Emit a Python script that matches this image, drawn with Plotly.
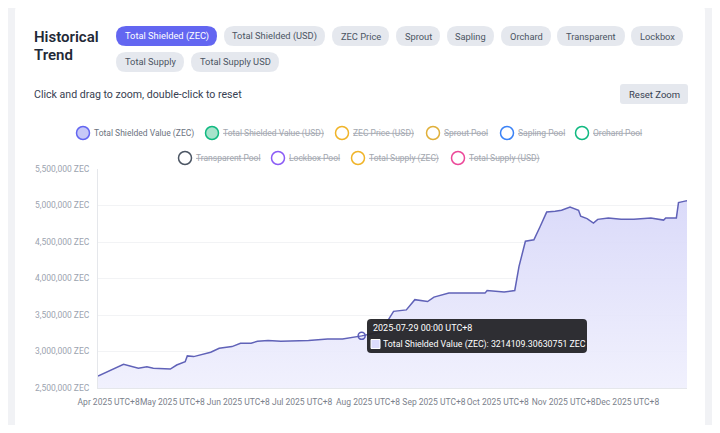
import plotly.graph_objects as go

# data
dates = ["2025-03-27", "2025-04-08", "2025-04-15", "2025-04-19", "2025-04-22", "2025-04-30",
         "2025-05-03", "2025-05-07", "2025-05-08", "2025-05-11", "2025-05-19", "2025-05-23",
         "2025-05-29", "2025-06-02", "2025-06-07", "2025-06-10", "2025-06-15", "2025-06-21",
         "2025-07-04", "2025-07-13", "2025-07-20", "2025-07-29", "2025-08-07", "2025-08-13",
         "2025-08-19", "2025-08-23", "2025-08-29", "2025-09-01", "2025-09-08", "2025-09-25",
         "2025-09-26", "2025-10-04", "2025-10-09", "2025-10-11", "2025-10-14", "2025-10-18",
         "2025-10-21", "2025-10-24", "2025-10-28", "2025-10-31", "2025-11-04", "2025-11-08",
         "2025-11-09", "2025-11-12", "2025-11-15", "2025-11-17", "2025-11-22", "2025-11-28",
         "2025-12-04", "2025-12-12", "2025-12-18", "2025-12-19", "2025-12-24", "2025-12-25",
         "2025-12-28", "2025-12-29"]
shielded_zec = [2665000, 2826000, 2770000, 2790000, 2770000, 2760000,
                2815000, 2860000, 2940000, 2930000, 2990000, 3045000,
                3067000, 3114000, 3114000, 3140000, 3150000, 3140000,
                3150000, 3170000, 3170000, 3214109.30630751, 3270000, 3550000,
                3570000, 3710000, 3685000, 3745000, 3800000, 3800000,
                3836000, 3815000, 3836000, 4166000, 4510000, 4530000,
                4716000, 4910000, 4920000, 4935000, 4980000, 4935000,
                4853000, 4820000, 4760000, 4810000, 4830000, 4810000,
                4810000, 4830000, 4800000, 4830000, 4830000, 5040000,
                5060000, 5065000]

hover_date = "2025-07-29"
hover_value = 3214109.30630751

y_ticks = [2500000, 3000000, 3500000, 4000000, 4500000, 5000000, 5500000]
y_labels = [f"{v:,} ZEC" for v in y_ticks]
x_ticks = ["2025-04-01", "2025-05-01", "2025-06-01", "2025-07-01", "2025-08-01",
           "2025-09-01", "2025-10-01", "2025-11-01", "2025-12-01"]
x_labels = ["Apr 2025 UTC+8", "May 2025 UTC+8", "Jun 2025 UTC+8", "Jul 2025 UTC+8",
            "Aug 2025 UTC+8", "Sep 2025 UTC+8", "Oct 2025 UTC+8", "Nov 2025 UTC+8",
            "Dec 2025 UTC+8"]

pills_row1 = ["Total Shielded (ZEC)", "Total Shielded (USD)", "ZEC Price", "Sprout",
              "Sapling", "Orchard", "Transparent", "Lockbox"]
pills_row2 = ["Total Supply", "Total Supply USD"]

legend_names = ["Total Shielded Value (ZEC)", "Total Shielded Value (USD)", "ZEC Price (USD)",
                "Sprout Pool", "Sapling Pool", "Orchard Pool", "Transparent Pool",
                "Lockbox Pool", "Total Supply (ZEC)", "Total Supply (USD)"]
legend_colors = ["#6366f1", "#10b981", "#f0b429", "#e0b03a", "#3b82f6", "#10b981",
                 "#4b5563", "#8b5cf6", "#f0b429", "#ec4899"]

# page body has an 8px margin, so the figure is a bit smaller and shifted
OFF = 8
W, H = 720 - 2 * OFF, 433 - 2 * OFF
FONT = "Roboto"


def px(x):
    return (x - OFF) / W


def py(y):
    return 1 - (y - OFF) / H


def rounded(x0, y0, x1, y1, r, bottom=True):
    # rounded rectangle path in paper coords from pixel values
    pts = [
        f"M {px(x0 + r):.5f} {py(y0):.5f}",
        f"L {px(x1 - r):.5f} {py(y0):.5f}",
        f"Q {px(x1):.5f} {py(y0):.5f} {px(x1):.5f} {py(y0 + r):.5f}",
    ]
    if bottom:
        pts += [
            f"L {px(x1):.5f} {py(y1 - r):.5f}",
            f"Q {px(x1):.5f} {py(y1):.5f} {px(x1 - r):.5f} {py(y1):.5f}",
            f"L {px(x0 + r):.5f} {py(y1):.5f}",
            f"Q {px(x0):.5f} {py(y1):.5f} {px(x0):.5f} {py(y1 - r):.5f}",
        ]
    else:
        pts += [
            f"L {px(x1):.5f} {py(y1):.5f}",
            f"L {px(x0):.5f} {py(y1):.5f}",
        ]
    pts += [
        f"L {px(x0):.5f} {py(y0 + r):.5f}",
        f"Q {px(x0):.5f} {py(y0):.5f} {px(x0 + r):.5f} {py(y0):.5f}",
        "Z",
    ]
    return " ".join(pts)


def label(text, x, y, size, color, xanchor="center", weight=None):
    f = dict(family=FONT, size=size, color=color)
    if weight:
        f["weight"] = weight
    return dict(text=text, x=px(x), y=py(y), xref="paper", yref="paper",
                xanchor=xanchor, yanchor="middle", align="left", showarrow=False, font=f)


fig = go.Figure()

fig.add_trace(go.Scatter(
    x=dates, y=shielded_zec, mode="lines",
    line=dict(color="#6062b8", width=1.5),
    fill="tozeroy",
    fillgradient=dict(type="vertical", start=2500000, stop=5100000,
                      colorscale=[[0, "rgba(239,239,253,0.9)"], [1, "rgba(216,216,249,0.95)"]]),
    showlegend=False, hoverinfo="skip",
))
fig.add_trace(go.Scatter(
    x=[hover_date], y=[hover_value], mode="markers",
    marker=dict(symbol="circle-open", size=7, color="#5b5db8", line=dict(width=1.5)),
    showlegend=False, hoverinfo="skip",
))

shapes = []
annotations = []

# white card
shapes.append(dict(type="path", xref="paper", yref="paper", layer="below",
                   path=rounded(15, 2, 705, 426, 10, bottom=False), fillcolor="white",
                   line=dict(width=0)))

# title
annotations.append(label("Historical", 32, 37, 15, "#1f2937", "left", 600))
annotations.append(label("Trend", 32, 55, 15, "#1f2937", "left", 600))

# pills
row1_pos = [(116, 217), (224, 325), (332, 389), (396, 440), (447, 494), (501, 551),
            (557, 625), (631, 683)]
row2_pos = [(116, 184), (191, 279)]
for names, poss, (ya, yb) in [(pills_row1, row1_pos, (26, 46)), (pills_row2, row2_pos, (52, 72))]:
    for i, (name, (xa, xb)) in enumerate(zip(names, poss)):
        active = names is pills_row1 and i == 0
        shapes.append(dict(type="path", xref="paper", yref="paper", layer="below",
                           path=rounded(xa, ya, xb, yb, 10),
                           fillcolor="#6366f1" if active else "#e5e8ee", line=dict(width=0)))
        annotations.append(label(name, (xa + xb) / 2, (ya + yb) / 2, 9.3,
                                 "white" if active else "#4b5563"))

# hint and reset button
annotations.append(label("Click and drag to zoom, double-click to reset", 32, 94, 10.6,
                         "#374151", "left"))
shapes.append(dict(type="path", xref="paper", yref="paper", layer="below",
                   path=rounded(620, 84, 688, 104, 3), fillcolor="#e5e8ee", line=dict(width=0)))
annotations.append(label("Reset Zoom", 654, 94, 9.5, "#374151"))

# legend (first item shown, the rest switched off)
legend_pos = [(83, 133), (212, 133), (342, 133), (433, 133), (507, 133), (582, 133),
              (185, 158), (278, 158), (358, 158), (458, 158)]
fills = ["#c7c8f7", "#a7e3cb"] + ["white"] * 8
for i, (name, col, (cx, cy)) in enumerate(zip(legend_names, legend_colors, legend_pos)):
    r = 6.5
    shapes.append(dict(type="circle", xref="paper", yref="paper", layer="above",
                       x0=px(cx - r), x1=px(cx + r), y0=py(cy + r), y1=py(cy - r),
                       fillcolor=fills[i], line=dict(color=col, width=1.5)))
    text = name if i == 0 else f"<s>{name}</s>"
    annotations.append(label(text, cx + 9, cy, 8.5, "#6b7280" if i == 0 else "#a3a8b0", "left"))

# tooltip
shapes.append(dict(type="path", xref="paper", yref="paper", layer="above",
                   path=rounded(367, 319, 587, 353, 4), fillcolor="rgba(34,34,38,0.94)",
                   line=dict(width=0)))
annotations.append(label("2025-07-29 00:00 UTC+8", 371, 328, 9, "white", "left"))
shapes.append(dict(type="rect", xref="paper", yref="paper", layer="above",
                   x0=px(371), x1=px(380), y0=py(348.5), y1=py(339.5),
                   fillcolor="#dcdcfb", line=dict(color="white", width=1)))
annotations.append(label(f"Total Shielded Value (ZEC): {hover_value} ZEC", 381, 344, 8.8,
                         "white", "left"))

fig.update_layout(
    width=W, height=H,
    margin=dict(l=0, r=0, t=0, b=0),
    paper_bgcolor="#f1f2f5",
    plot_bgcolor="rgba(0,0,0,0)",
    shapes=shapes,
    annotations=annotations,
    showlegend=False,
    xaxis=dict(domain=[px(98), px(687)], type="date", range=["2025-03-27", "2025-12-29"],
               tickvals=x_ticks, ticktext=x_labels, showgrid=False, ticks="", tickangle=0,
               ticklabelstandoff=6,
               showline=True, linecolor="#e5e7eb", linewidth=1, automargin=False,
               tickfont=dict(family=FONT, size=8.5, color="#7b818c"), zeroline=False),
    yaxis=dict(domain=[py(388), py(169)], range=[2500000, 5500000], tickvals=y_ticks,
               ticktext=y_labels, showgrid=True, gridcolor="#f2f3f5", ticks="",
               ticklabelstandoff=6,
               showline=True, linecolor="#e5e7eb", linewidth=1, automargin=False,
               tickfont=dict(family=FONT, size=8.5, color="#9ca3af"), zeroline=False),
)

fig.write_html("out.html")
